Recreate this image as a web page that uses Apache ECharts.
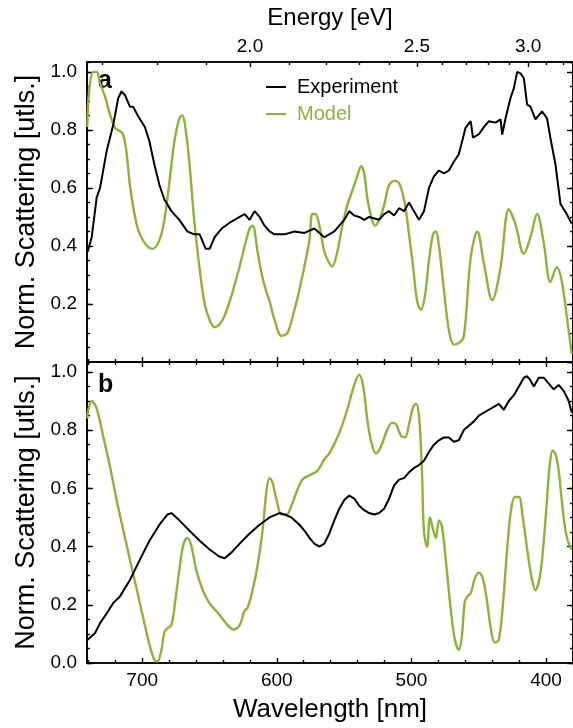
<!DOCTYPE html>
<html><head><meta charset="utf-8">
<script src="https://cdn.jsdelivr.net/npm/echarts@6/dist/echarts.min.js"></script>
<style>html,body{margin:0;padding:0;background:#fff}#c{width:573px;height:728px}</style>
</head><body><div id="c"></div>
<script>
// ---------- data (wavelength nm, normalized scattering) ----------
const wlExpA  = [740.5,737.5,733.8,731.3,726.4,721.5,717.8,715.3,712.8,709.1,706.7,703.0,698.0,694.6,690.9,687.2,683.5,678.3,672.4,666.5,661.4,657.3,652.8,649.9,646.2,641.0,635.0,627.6,623.9,620.2,616.5,612.8,609.1,605.4,601.7,594.3,586.9,579.5,572.1,564.7,557.3,553.6,549.9,546.2,542.5,538.8,535.1,531.4,524.0,520.3,516.6,512.9,509.2,505.5,501.8,498.1,494.4,490.7,487.0,483.3,479.6,475.9,472.2,468.5,464.8,459.8,456.0,454.3,449.9,446.2,442.5,437.5,433.8,432.6,430.1,426.4,423.9,421.5,419.0,416.5,414.1,411.6,407.9,403.0,399.3,396.8,393.0,389.3,384.7,381.0];
const valExpA = [0.38,0.43,0.567,0.60,0.727,0.818,0.91,0.933,0.92,0.88,0.88,0.847,0.81,0.76,0.68,0.61,0.56,0.52,0.49,0.45,0.44,0.44,0.39,0.39,0.43,0.46,0.48,0.50,0.51,0.49,0.52,0.50,0.47,0.45,0.44,0.44,0.45,0.445,0.46,0.43,0.45,0.47,0.49,0.52,0.505,0.50,0.49,0.50,0.49,0.51,0.52,0.505,0.53,0.52,0.55,0.52,0.49,0.52,0.60,0.64,0.66,0.65,0.66,0.69,0.716,0.807,0.83,0.773,0.785,0.81,0.83,0.825,0.836,0.784,0.84,0.91,0.944,1.0,0.995,0.978,0.887,0.88,0.836,0.864,0.84,0.773,0.68,0.545,0.51,0.477];

const wlModA  = [740.8,739.3,736.3,733.8,731.3,727.6,723.9,720.2,716.6,714.1,711.6,709.1,705.3,701.7,696.5,692.4,687.2,683.5,679.8,676.1,672.4,670.2,668.0,665.0,661.4,657.3,653.6,649.9,646.2,642.5,638.7,633.6,627.6,623.9,620.2,618.0,614.3,610.6,607.6,605.4,601.7,596.5,592.1,586.9,583.2,579.5,575.8,573.6,571.4,568.4,564.7,561.0,558.8,555.1,551.3,547.7,544.0,540.3,537.3,535.1,532.9,529.9,527.0,524.0,520.3,516.6,512.2,508.5,504.7,501.8,498.8,495.8,492.9,489.9,487.0,484.0,481.8,479.6,475.9,472.2,468.5,464.8,461.1,456.0,451.1,446.2,440.0,433.8,427.7,422.8,416.5,411.6,406.7,401.7,396.8,392.0,388.4,384.6,381.0];
const valModA = [0.81,0.94,1.0,1.0,0.96,0.915,0.853,0.807,0.796,0.784,0.72,0.61,0.50,0.44,0.40,0.39,0.42,0.49,0.62,0.76,0.84,0.85,0.81,0.69,0.49,0.32,0.20,0.145,0.12,0.13,0.16,0.23,0.33,0.40,0.46,0.47,0.38,0.29,0.24,0.21,0.145,0.09,0.10,0.18,0.25,0.33,0.42,0.51,0.51,0.47,0.38,0.34,0.33,0.38,0.47,0.54,0.59,0.64,0.675,0.65,0.57,0.50,0.47,0.49,0.54,0.61,0.625,0.61,0.54,0.44,0.33,0.21,0.18,0.23,0.35,0.44,0.45,0.40,0.25,0.11,0.06,0.066,0.088,0.36,0.45,0.34,0.213,0.327,0.527,0.476,0.373,0.43,0.51,0.41,0.276,0.327,0.28,0.156,0.03];

const wlExpB  = [740.5,735.0,731.3,726.4,721.5,716.6,709.1,701.7,694.6,687.2,681.3,678.3,672.4,665.0,657.3,649.9,642.5,638.7,633.6,627.6,620.2,612.8,605.4,598.0,594.3,589.1,583.2,579.5,575.8,572.1,568.4,564.7,561.0,557.3,553.6,549.9,546.2,542.5,538.8,535.1,531.4,527.7,524.0,520.3,516.6,512.9,509.2,505.5,501.8,498.1,494.4,490.7,487.0,483.3,479.6,475.9,472.2,468.5,464.8,461.1,457.4,453.6,449.9,446.2,442.5,438.8,435.1,431.4,427.7,423.9,420.2,416.5,414.3,412.1,409.1,405.4,401.7,398.0,394.3,390.6,386.9,383.2,380.9];
const valExpB = [0.08,0.103,0.137,0.17,0.206,0.228,0.285,0.355,0.42,0.475,0.51,0.515,0.49,0.455,0.42,0.39,0.365,0.36,0.38,0.41,0.445,0.475,0.50,0.515,0.51,0.50,0.475,0.455,0.43,0.41,0.40,0.41,0.445,0.49,0.53,0.56,0.575,0.565,0.54,0.525,0.515,0.51,0.515,0.53,0.565,0.61,0.63,0.635,0.655,0.67,0.68,0.695,0.725,0.75,0.765,0.775,0.775,0.76,0.765,0.80,0.815,0.83,0.85,0.86,0.87,0.88,0.89,0.87,0.90,0.92,0.95,0.98,0.985,0.975,0.95,0.98,0.98,0.96,0.94,0.955,0.935,0.90,0.86];

const wlModB  = [740.8,740.0,737.5,733.8,728.9,723.9,719.0,714.1,709.1,703.9,698.0,694.6,690.9,688.7,685.7,683.5,681.3,678.3,675.4,672.4,669.5,666.5,663.6,659.9,655.0,649.9,642.5,636.5,632.1,627.6,623.9,621.7,618.0,614.3,610.6,607.6,605.4,603.2,600.2,596.5,592.8,588.4,584.7,581.0,575.8,569.9,564.7,561.0,553.6,547.7,542.5,538.8,535.8,532.9,529.9,526.2,522.5,518.1,514.4,511.4,507.7,504.7,501.8,498.8,496.6,494.4,492.2,490.7,488.4,486.2,484.0,481.8,479.6,477.4,474.4,470.7,467.7,464.8,462.6,460.4,458.2,455.9,453.0,449.9,447.0,444.1,441.1,438.1,435.1,432.1,429.1,426.2,423.2,420.2,417.3,414.3,411.0,407.9,404.5,401.7,399.5,397.3,395.1,392.8,390.6,388.4,386.1,383.9,381.0];
const valModB = [0.84,0.87,0.90,0.874,0.777,0.674,0.56,0.457,0.355,0.25,0.13,0.063,0.01,0.005,0.045,0.107,0.12,0.13,0.215,0.32,0.405,0.43,0.405,0.32,0.25,0.205,0.165,0.13,0.115,0.13,0.18,0.19,0.25,0.335,0.455,0.595,0.635,0.62,0.56,0.51,0.51,0.55,0.595,0.63,0.645,0.66,0.70,0.72,0.79,0.87,0.955,0.99,0.95,0.84,0.76,0.72,0.745,0.80,0.825,0.82,0.78,0.775,0.82,0.88,0.89,0.85,0.66,0.45,0.40,0.50,0.46,0.43,0.49,0.47,0.35,0.18,0.08,0.045,0.09,0.21,0.23,0.24,0.29,0.31,0.29,0.22,0.12,0.07,0.08,0.20,0.38,0.52,0.57,0.57,0.50,0.40,0.30,0.25,0.30,0.42,0.55,0.68,0.73,0.715,0.66,0.56,0.47,0.42,0.39];

// ---------- tick labels ----------
const wlMajor = [400, 500, 600, 700];
const wlMinor = [];
for (let w = 380; w <= 740; w += 20) if (w % 100 !== 0) wlMinor.push(w);
const energyMajor = [2.0, 2.5, 3.0];
const energyMinor = [1.7, 1.8, 1.9, 2.1, 2.2, 2.3, 2.4, 2.6, 2.7, 2.8, 2.9, 3.1, 3.2];
const HC = 1239.84;
const energyMajorWl = energyMajor.map(e => HC / e);
const energyMinorWl = energyMinor.map(e => HC / e);

const GREEN = '#8db33a';
const FONT = '"Liberation Sans", Arial, Helvetica, sans-serif';
const pair = (a, b) => a.map((w, i) => [w, b[i]]);

const XMIN = 380, XMAX = 741, YMAX = 1.034;
const grids = [
  { left: 87, top: 62, width: 487, height: 300 },
  { left: 87, top: 362, width: 487, height: 301 }
];
const lineStyle = { color: '#000', width: 1.6 };
function xAx(grid, pos, ticks, len, opts) {
  return Object.assign({
    type: 'value', gridIndex: grid, position: pos, min: XMIN, max: XMAX, inverse: true,
    axisLine: { show: true, onZero: false, lineStyle },
    axisTick: { show: true, inside: true, length: len, customValues: ticks, lineStyle: { color: '#000', width: 1.4 } },
    axisLabel: { show: false },
    splitLine: { show: false }
  }, opts || {});
}
function yAx(grid, pos, interval, len, labels, showMin) {
  return {
    type: 'value', gridIndex: grid, position: pos, min: 0, max: YMAX, interval,
    axisLine: { show: true, onZero: false, lineStyle },
    axisTick: { show: true, inside: true, length: len, lineStyle: { color: '#000', width: 1.4 } },
    axisLabel: labels ? { show: true, fontSize: 19, fontFamily: FONT, color: '#000', margin: 10,
      showMaxLabel: false, showMinLabel: showMin, formatter: v => v.toFixed(1) } : { show: false },
    splitLine: { show: false },
    name: labels ? 'Norm. Scattering [utls.]' : '',
    nameLocation: 'middle', nameGap: 47,
    nameTextStyle: { fontSize: 27, fontFamily: FONT, color: '#000' }
  };
}

const xAxes = [
  xAx(0, 'bottom', wlMajor, 5),
  xAx(0, 'bottom', wlMinor, 3),
  xAx(0, 'top', energyMajorWl, 5, {
    axisLabel: { show: true, customValues: energyMajorWl, fontSize: 19, fontFamily: FONT, color: '#000', margin: 6,
      formatter: v => (HC / v).toFixed(1) },
    name: 'Energy [eV]', nameLocation: 'middle', nameGap: 32,
    nameTextStyle: { fontSize: 24, fontFamily: FONT, color: '#000' }
  }),
  xAx(0, 'top', energyMinorWl, 3),
  xAx(1, 'top', wlMajor, 5),
  xAx(1, 'top', wlMinor, 3),
  xAx(1, 'bottom', wlMajor, 5, {
    axisLabel: { show: true, customValues: wlMajor, fontSize: 19, fontFamily: FONT, color: '#000', margin: 8 },
    name: 'Wavelength [nm]', nameLocation: 'middle', nameGap: 34,
    nameTextStyle: { fontSize: 26, fontFamily: FONT, color: '#000' }
  }),
  xAx(1, 'bottom', wlMinor, 3)
];
const yAxes = [
  yAx(0, 'left', 0.2, 6, true, false),
  yAx(0, 'left', 0.05, 3, false),
  yAx(0, 'right', 0.2, 6, false),
  yAx(0, 'right', 0.05, 3, false),
  yAx(1, 'left', 0.2, 6, true, true),
  yAx(1, 'left', 0.05, 3, false),
  yAx(1, 'right', 0.2, 6, false),
  yAx(1, 'right', 0.05, 3, false)
];

const mk = (name, data, color, w, xi, yi) => ({
  name, type: 'line', data, xAxisIndex: xi, yAxisIndex: yi, showSymbol: false, symbol: 'none',
  lineStyle: { color, width: w }, itemStyle: { color }, z: name === 'Model' ? 3 : 4,
  smooth: name === 'Model' ? 0.35 : false, animation: false
});

const chart = echarts.init(document.getElementById('c'), null, { renderer: 'canvas' });
chart.setOption({
  animation: false,
  backgroundColor: '#fff',
  grid: grids,
  xAxis: xAxes,
  yAxis: yAxes,
  legend: {
    left: 261, top: 72, padding: 5, orient: 'vertical', itemGap: 7, itemWidth: 20, itemHeight: 2,
    textStyle: { fontSize: 20, fontFamily: FONT, padding: [0, 0, 0, 6] },
    data: [
      { name: 'Experiment', icon: 'rect', textStyle: { color: '#000' } },
      { name: 'Model', icon: 'rect', textStyle: { color: GREEN } }
    ]
  },
  graphic: [
    { type: 'text', left: 98, top: 69, style: { text: 'a', font: 'bold 25px ' + FONT, fill: '#000' } },
    { type: 'text', left: 98, top: 373, style: { text: 'b', font: 'bold 25px ' + FONT, fill: '#000' } }
  ],
  series: [
    mk('Model', pair(wlModA, valModA), GREEN, 2.4, 0, 0),
    mk('Experiment', pair(wlExpA, valExpA), '#000', 2, 0, 0),
    mk('Model', pair(wlModB, valModB), GREEN, 2.4, 6, 4),
    mk('Experiment', pair(wlExpB, valExpB), '#000', 2, 6, 4)
  ]
});
</script></body></html>
